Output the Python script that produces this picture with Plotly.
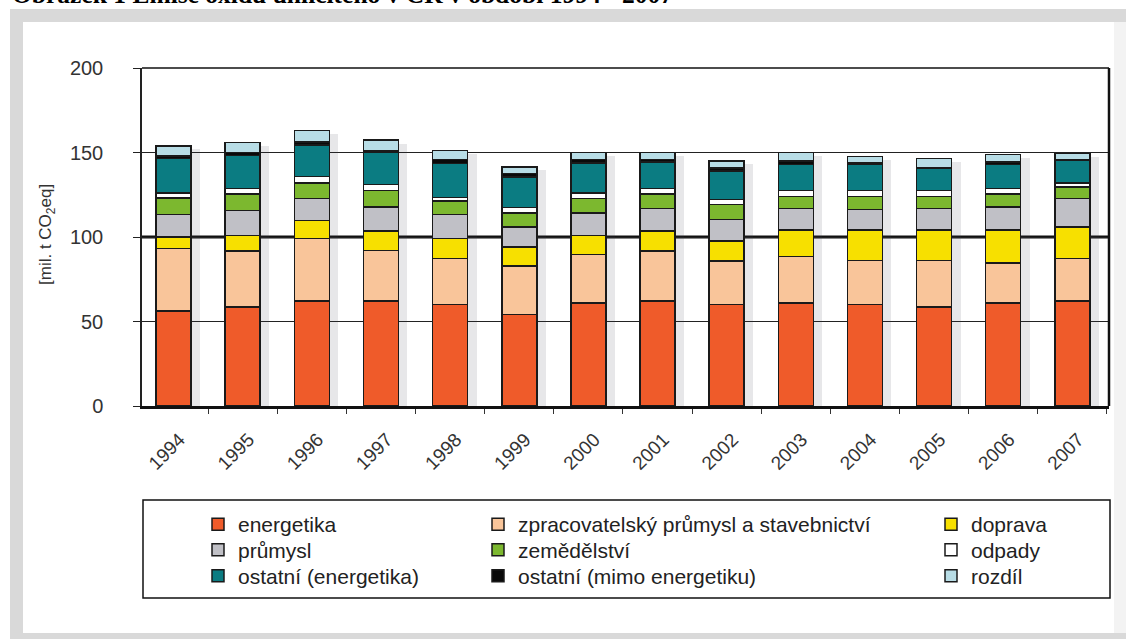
import plotly.graph_objects as go

years = ["1994", "1995", "1996", "1997", "1998", "1999", "2000",
         "2001", "2002", "2003", "2004", "2005", "2006", "2007"]

energetika = [56.2, 58.6, 62.0, 62.0, 60.0, 54.1, 60.9, 62.0, 60.0, 60.9, 60.0, 58.6, 60.9, 62.0]
zpracovatelsky = [36.9, 33.1, 37.0, 30.1, 27.2, 28.6, 28.7, 29.7, 25.8, 27.7, 26.2, 27.6, 23.7, 25.2]
doprava = [6.9, 9.3, 10.9, 11.5, 11.8, 11.4, 11.4, 11.9, 11.8, 15.4, 17.8, 17.8, 19.4, 18.7]
prumysl = [13.2, 14.8, 12.8, 14.2, 14.2, 11.8, 13.2, 13.2, 12.9, 12.8, 12.2, 12.8, 13.8, 16.8]
zemedelstvi = [9.9, 9.5, 9.3, 9.8, 8.1, 8.3, 8.5, 8.5, 8.7, 7.3, 7.9, 7.3, 7.5, 6.9]
odpady = [3.0, 3.3, 3.9, 3.4, 2.0, 3.2, 3.3, 3.3, 2.9, 3.5, 3.5, 3.5, 3.3, 2.4]
ostatni_energetika = [20.4, 19.7, 18.4, 19.3, 20.1, 18.1, 17.8, 15.8, 17.0, 15.4, 15.4, 12.9, 14.2, 13.4]
ostatni_mimo = [1.3, 1.6, 1.9, 0.6, 2.4, 2.0, 2.0, 1.4, 1.7, 2.0, 0.8, 0.6, 1.6, 0.4]
rozdil = [6.0, 6.0, 6.9, 6.4, 5.5, 3.9, 4.1, 4.1, 4.2, 4.9, 3.9, 5.3, 4.4, 3.5]

series_names = ["energetika", "zpracovatelský průmysl a stavebnictví", "doprava",
                "průmysl", "zemědělství", "odpady",
                "ostatní (energetika)", "ostatní (mimo energetiku)", "rozdíl"]
series_values = [energetika, zpracovatelsky, doprava, prumysl, zemedelstvi, odpady,
                 ostatni_energetika, ostatni_mimo, rozdil]
series_colors = ["#ef5b2a", "#f9c59a", "#f7e000", "#c0c0c6", "#7cb82f", "#ffffff",
                 "#0b7c82", "#0a0a0a", "#b8dde6"]

y_ticks = [0, 50, 100, 150, 200]

FONT = "Arial, Liberation Sans, sans-serif"

# pixel -> paper helpers (plot area: x 142..1109, y 68..406)
L, R, T, B = 142, 1109, 68, 406
def px(x):
    return (x - L) / (R - L)
def py(y):
    return (B - y) / (B - T)

BAR_W = 0.506
totals = [sum(v[i] for v in series_values) for i in range(len(years))]

fig = go.Figure()

# drop shadow behind each bar (base subplot, drawn beneath the bars)
fig.add_trace(go.Bar(
    x=years, y=[t - 2 for t in totals], width=BAR_W, offset=-BAR_W / 2 + 0.13,
    marker=dict(color="rgba(70,70,85,0.13)", line=dict(width=0)),
    showlegend=False, hoverinfo="skip", xaxis="x", yaxis="y",
))

# legend layout: 3 columns x 3 rows, each entry its own legend box
col_x = [198, 478, 931]
row_y = [524.5, 550, 576]

legend_layout = {}
for i, (name, vals, color) in enumerate(zip(series_names, series_values, series_colors)):
    key = "legend" if i == 0 else f"legend{i + 1}"
    fig.add_trace(go.Bar(
        x=years, y=vals, name=name, legend=key, xaxis="x2", yaxis="y2",
        marker=dict(color=color, line=dict(color="#1a1a1a", width=1.5)),
    ))
    row, col = divmod(i, 3)
    legend_layout[key] = dict(
        x=px(col_x[col]), y=py(row_y[row]), xanchor="left", yanchor="middle",
        font=dict(family=FONT, size=21, color="#222222"), bgcolor="rgba(0,0,0,0)",
        borderwidth=0, orientation="v", traceorder="normal",
    )

shapes = [
    # grey frame
    dict(type="rect", xref="paper", yref="paper", x0=px(10), x1=px(1130), y0=py(9), y1=py(645),
         fillcolor="#d9d9d9", line=dict(width=0), layer="below"),
    dict(type="rect", xref="paper", yref="paper", x0=px(23), x1=px(1130), y0=py(22), y1=py(633),
         fillcolor="#ffffff", line=dict(width=0), layer="below"),
    dict(type="rect", xref="paper", yref="paper", x0=px(1114), x1=px(1130), y0=py(22), y1=py(633),
         fillcolor="#f3f3f3", line=dict(width=0), layer="below"),
    # thick 100 line
    dict(type="line", xref="paper", yref="y", x0=0, x1=1, y0=100, y1=100,
         line=dict(color="#111111", width=3), layer="between"),
    # top border
    dict(type="line", xref="paper", yref="paper", x0=0, x1=1, y0=1, y1=1,
         line=dict(color="#111111", width=1.5)),
    # right border
    dict(type="line", xref="paper", yref="paper", x0=1, x1=1, y0=0, y1=1,
         line=dict(color="#111111", width=2.5)),
    # legend box
    dict(type="rect", xref="paper", yref="paper", x0=px(143), x1=px(1110), y0=py(598), y1=py(500),
         line=dict(color="#111111", width=1.5), fillcolor="rgba(0,0,0,0)"),
]

fig.update_layout(
    width=1126, height=639,
    margin=dict(l=L, r=1126 - R, t=T, b=639 - B),
    paper_bgcolor="#ffffff", plot_bgcolor="#ffffff",
    barmode="stack", bargap=1 - BAR_W,
    showlegend=True,
    shapes=shapes,
    xaxis=dict(type="category", range=[-0.457, 13.53], tickangle=-45, tickson="boundaries",
               ticks="outside", ticklen=5, tickcolor="#333333", showgrid=False,
               showline=True, linecolor="#111111", linewidth=3,
               ticklabelstandoff=12, ticklabelshift=6,
               tickfont=dict(family=FONT, size=19, color="#333333")),
    yaxis=dict(range=[0, 200], tickvals=y_ticks, ticks="outside", ticklen=7, tickcolor="#222222",
               showgrid=True, gridcolor="#222222", gridwidth=1.2, zeroline=False,
               showline=True, linecolor="#222222", linewidth=1.5,
               ticklabelstandoff=26,
               tickfont=dict(family=FONT, size=20, color="#333333")),
    xaxis2=dict(type="category", overlaying="x", matches="x", visible=False),
    yaxis2=dict(overlaying="y", matches="y", visible=False),
    annotations=[
        dict(text="[mil. t CO<sub>2</sub>eq]", textangle=-90, xref="paper", yref="paper",
             x=px(47), y=py(235), xanchor="center", yanchor="middle", showarrow=False,
             font=dict(family=FONT, size=17, color="#333333")),
        dict(text="<b>Obrázek 1 Emise oxidu uhličitého v ČR v období 1994 - 2007</b>",
             xref="paper", yref="paper", x=px(10), y=py(11), xanchor="left", yanchor="bottom",
             showarrow=False, font=dict(family="Times New Roman, Liberation Serif, serif", size=25.5,
                                        color="#000000")),
    ],
    **legend_layout,
)

fig.write_html("out.html")
